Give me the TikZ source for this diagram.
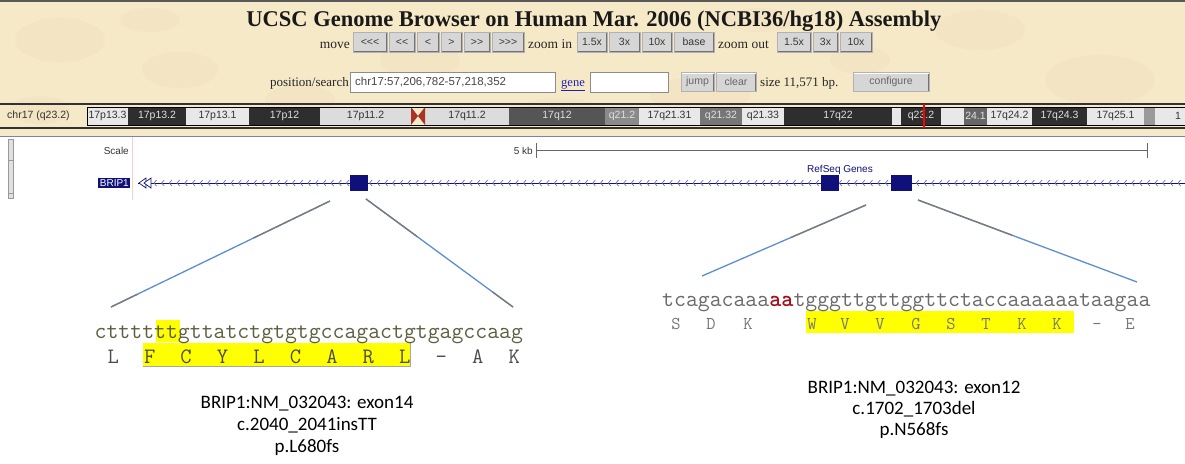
\documentclass[tikz,border=0pt]{standalone}
\usepackage{fontspec}
\setmainfont{Liberation Serif}
\newfontfamily\uisans{Liberation Sans}
\newfontfamily\capfont{Carlito}
\usetikzlibrary{calc}

\definecolor{parch}{HTML}{F6E9C8}
\definecolor{blotch}{HTML}{E3CFA3}
\definecolor{btnface}{HTML}{D6D6D6}
\definecolor{navy}{HTML}{10107A}
\definecolor{chevron}{HTML}{7070B8}
\definecolor{linkblue}{HTML}{2020B0}
\definecolor{zoomblue}{HTML}{5B8ED6}
\definecolor{zoomgray}{HTML}{7A7A7A}
\definecolor{hiyellow}{HTML}{FFFF00}
\definecolor{seqolive}{HTML}{5E5E40}
\definecolor{seqgray}{HTML}{6A6A6A}
\definecolor{aagray}{HTML}{777777}
\definecolor{delred}{HTML}{A3121A}
\definecolor{sepblue}{HTML}{7C7CD0}
\definecolor{bandlt}{HTML}{E8E8E8}
\definecolor{bandmd}{HTML}{DCDCDC}
\definecolor{banddk}{HTML}{2E2E2E}
\definecolor{bandq}{HTML}{555555}
\definecolor{bandga}{HTML}{8A8A8A}
\definecolor{bandgb}{HTML}{767676}
\definecolor{bandgc}{HTML}{666666}
\definecolor{bandgd}{HTML}{9A9A9A}
\definecolor{txdark}{HTML}{333333}
\definecolor{txlight}{HTML}{E0E0E0}
\definecolor{centro}{HTML}{A83428}

% one UI push button: name, left x, right x, centre y, height, label
\newcommand\uibutton[6]{%
  \node[btn, minimum width={(#3-#2)*1pt}, minimum height={#5*1pt}] (#1) at ({(#2+#3)/2},#4) {#6};}

\begin{document}
\begin{tikzpicture}[x=1pt,y=-1pt,
  btn/.style={draw=black!30, fill=btnface, inner sep=0pt,
    font=\uisans\fontsize{10.5}{12}\selectfont, text=black!78,
    path picture={
      \draw[black!55,line width=2pt] (path picture bounding box.south west) --
        (path picture bounding box.south east) -- (path picture bounding box.north east);
      \draw[white,line width=2pt] (path picture bounding box.south west) --
        (path picture bounding box.north west) -- (path picture bounding box.north east);}},
  inbox/.style={draw=black!45, fill=white, inner sep=0pt, minimum height=20pt},
  uitext/.style={inner sep=0pt, font=\fontsize{13.5}{15}\selectfont, text=black!85},
  band/.style={inner sep=0pt, font=\uisans\fontsize{10.5}{12}\selectfont},
  tracktext/.style={inner sep=0pt, font=\uisans\fontsize{10}{12}\selectfont},
  exon/.style={fill=navy, inner sep=0pt, minimum height=16pt},
  seq/.style={inner sep=0pt, anchor=base west, font=\ttfamily\fontsize{23.1}{26}\selectfont},
  aa/.style={inner sep=0pt, anchor=base, font=\ttfamily\fontsize{22}{24}\selectfont, text=black!70},
  aasmall/.style={inner sep=0pt, anchor=base, font=\ttfamily\fontsize{18}{20}\selectfont, text=aagray},
  caption/.style={inner sep=0pt, anchor=base, font=\capfont\fontsize{19}{22}\selectfont, text=black},
  zoomline/.style={zoomblue, line width=1.3pt},
  zoomend/.style={zoomgray, line width=1.3pt}]

\useasboundingbox (0,0) rectangle (1185,463);
\fill[white] (0,0) rectangle (1185,463);

% parchment header with a faint mottled texture
\fill[parch] (0,0) rectangle (1185,136);
\begin{scope}[opacity=0.12]
  \foreach \px/\py/\rx/\ry in {60/40/45/22, 180/70/38/18, 150/20/30/12, 420/60/40/20,
      700/95/50/18, 980/30/45/20, 1100/80/55/25, 860/60/30/14, 300/100/35/15,
      560/110/40/12, 1040/115/38/12, 40/110/30/14, 760/20/36/12}
    \fill[blotch] (\px,\py) ellipse [x radius=\rx, y radius=\ry];
\end{scope}
\draw[black!65, line width=2pt] (0,1) -- (1185,1);

% title
\node[inner sep=0pt, anchor=base, font=\bfseries\fontsize{22.5}{26}\selectfont, text=black!90]
  (title) at (594,26) {UCSC Genome Browser on Human Mar. 2006 (NCBI36/hg18) Assembly};

% navigation row
\node[uitext, anchor=base east] (lblmove) at (350,48.5) {move};
\uibutton{mvA}{353}{387}{42}{20}{<<<}
\uibutton{mvB}{389}{415}{42}{20}{<<}
\uibutton{mvC}{417}{439}{42}{20}{<}
\uibutton{mvD}{441}{462}{42}{20}{>}
\uibutton{mvE}{464}{490}{42}{20}{>>}
\uibutton{mvF}{492}{524}{42}{20}{>>>}
\node[uitext, anchor=base west] (lblzin) at (528,48.5) {zoom in};
\uibutton{ziA}{577}{607}{42}{20}{1.5x}
\uibutton{ziB}{609}{640}{42}{20}{3x}
\uibutton{ziC}{642}{672}{42}{20}{10x}
\uibutton{ziD}{674}{714}{42}{20}{base}
\node[uitext, anchor=base west] (lblzout) at (718,48.5) {zoom out};
\uibutton{zoA}{777}{811}{42}{20}{1.5x}
\uibutton{zoB}{813}{838}{42}{20}{3x}
\uibutton{zoC}{840}{872}{42}{20}{10x}

% position row
\node[uitext, anchor=base east, font=\fontsize{13}{15}\selectfont] (lblpos) at (349,86.5) {position/search};
\node[inbox, minimum width=205pt] (posbox) at (452.5,82) {};
\node[inner sep=0pt, anchor=west, font=\uisans\fontsize{11.5}{13}\selectfont, text=black!72]
  (posval) at (355,82) {chr17:57,206,782-57,218,352};
\node[uitext, anchor=base west, text=linkblue, font=\fontsize{12.5}{15}\selectfont] (lblgene) at (561,86.5) {\underline{gene}};
\node[inbox, minimum width=78pt] (genebox) at (629,82) {};
\uibutton{bjump}{681}{714}{82}{19}{\textcolor{black!60}{jump}}
\uibutton{bclear}{716}{756}{82}{19}{\textcolor{black!60}{clear}}
\node[uitext, anchor=base west, font=\fontsize{13}{15}\selectfont] (lblsize) at (760,86.5) {size 11,571 bp.};
\uibutton{bconf}{853}{929}{82}{19}{\textcolor{black!60}{configure}}

% chromosome ideogram
\draw[black!80, line width=1.4pt] (0,104) -- (1185,104);
\draw[black!80, line width=1.4pt] (0,128) -- (1185,128);
\node[band, anchor=west, text=txdark] (chrlabel) at (7,116) {chr17 (q23.2)};
\begin{scope}
\clip (0,100) rectangle (1185,130);
\foreach \a/\b/\f/\t/\l [count=\i] in {
    87/128/bandlt/txdark/17p13.3, 128/186/banddk/txlight/17p13.2,
    186/249/bandlt/txdark/17p13.1, 249/320/banddk/txlight/17p12,
    320/411/bandmd/txdark/17p11.2, 425/509/bandmd/txdark/17q11.2,
    509/605/bandq/txlight/17q12, 605/639/bandga/txlight/q21.2,
    639/700/bandlt/txdark/17q21.31, 700/742/bandgb/txlight/q21.32,
    742/784/bandlt/txdark/q21.33, 784/892/banddk/txlight/17q22,
    892/901/bandlt/txdark/{}, 901/941/banddk/txlight/q23.2,
    941/964/bandlt/txdark/{}, 964/987/bandgc/txlight/24.1,
    987/1032/bandlt/txdark/17q24.2, 1032/1087/banddk/txlight/17q24.3,
    1087/1144/bandlt/txdark/17q25.1, 1144/1155/bandgd/txlight/{},
    1155/1200/bandlt/txdark/{}}
  {\fill[\f] (\a,107) rectangle (\b,125);
   \node[band, text=\t] (band\i) at ({(\a+\b)/2},116) {\l};}
\node[band, anchor=west, text=txdark] (bandcut) at (1175,116) {1};
\fill[centro] (411,107) -- (418,116) -- (411,125) -- cycle;
\fill[centro] (425,107) -- (418,116) -- (425,125) -- cycle;
\draw[black, line width=0.8pt] (87,107) -- (1185,107) (87,125) -- (1185,125) (87,107) -- (87,125);
\end{scope}
\draw[red, line width=2pt] (924,104) -- (924,128);

% separator between header and tracks
\draw[sepblue, line width=1.2pt] (0,136.5) -- (1185,136.5);

% track side widgets
\fill[black!12] (8,139) rectangle (13,198);
\draw[black!40, line width=0.6pt] (8,139) rectangle (13,198) (8,160) -- (13,160) (8,193) -- (13,193);
\draw[red!20, line width=0.6pt] (132,137) -- (132,200);

% scale bar
\node[tracktext, anchor=east, text=black!80] (scalelbl) at (129,150.5) {Scale};
\node[tracktext, anchor=east, text=black!80] (kblbl) at (533,150.5) {5 kb};
\coordinate (sbL) at (536,150.5);
\coordinate (sbR) at (1147,150.5);
\draw[black!60, line width=0.8pt] (sbL) -- (sbR);
\draw[black!60, line width=0.8pt] ($(sbL)+(0,-7.5)$) -- ($(sbL)+(0,7.5)$);
\draw[black!60, line width=0.8pt] ($(sbR)+(0,-7.5)$) -- ($(sbR)+(0,7.5)$);

% RefSeq gene track
\node[tracktext, text=navy] (trackname) at (840,169.5) {RefSeq Genes};
\node[tracktext, fill=navy, text=white, inner sep=1.5pt, anchor=east] (genelbl) at (130.5,183) {BRIP1};
\coordinate (geneL) at (138,183);
\coordinate (geneR) at (1185,183);
\draw[navy, line width=1pt] (geneL) -- (geneR);
\foreach \k in {0,...,134}
  \draw[chevron, line width=0.7pt] ({154+7.7*\k+2.5},180) -- ({154+7.7*\k},183) -- ({154+7.7*\k+2.5},186);
\draw[navy, line width=0.7pt, fill=white] (146,178) -- (139,183) -- (146,188) -- cycle;
\draw[navy, line width=0.7pt, fill=white] (151,178) -- (144,183) -- (151,188) -- cycle;
\node[exon, minimum width=18pt] (exonL) at (359,183) {};
\node[exon, minimum width=18pt] (exonM) at (830,183) {};
\node[exon, minimum width=21pt] (exonR) at (901.5,183) {};

% zoom-out connectors
\coordinate (zlA) at (330,201);   \coordinate (zlB) at (111,307);
\coordinate (zrA) at (366,199);   \coordinate (zrB) at (513,307);
\coordinate (ylA) at (866,205);   \coordinate (ylB) at (702,276);
\coordinate (yrA) at (918,200);   \coordinate (yrB) at (1137,282);
\draw[zoomline] (zlA) -- (zlB);
\draw[zoomend] (zlA) -- ($(zlA)!0.35!(zlB)$);
\draw[zoomend] ($(zlA)!0.88!(zlB)$) -- (zlB);
\draw[zoomline] (zrA) -- (zrB);
\draw[zoomend] (zrA) -- ($(zrA)!0.35!(zrB)$);
\draw[zoomend] ($(zrA)!0.86!(zrB)$) -- (zrB);
\draw[zoomline] (ylA) -- (ylB);
\draw[zoomend] (ylA) -- ($(ylA)!0.46!(ylB)$);
\draw[zoomline] (yrA) -- (yrB);
\draw[zoomend] (yrA) -- ($(yrA)!0.43!(yrB)$);

% exon 14 insertion
\fill[hiyellow] (156,320) rectangle (180,342);
\fill[hiyellow] (143,343) rectangle (410,366);
\draw[black!35, line width=0.8pt] (143,366) -- (410,366) -- (410,343);
\node[seq, text=seqolive] (seqL) at (94.5,338.5) {cttttttgttatctgtgtgccagactgtgagccaag};
\foreach \r [count=\i from 0] in {L,F,C,Y,L,C,A,R,L,-,A,K}
  \node[aa] (aaL\i) at ({95+36.45*(\i+0.5)},363) {\r};

% exon 12 deletion
\fill[hiyellow] (806,311) rectangle (1074,333);
\node[seq, text=seqgray] (seqR) at (662,306)
  {tcagacaaa\textcolor{delred}{\bfseries aa}tgggttgttggttctaccaaaaaataagaa};
\foreach \r/\x [count=\i] in {S/676,D/711,K/748,W/812,V/845,V/880,G/916,
    S/951,T/986,K/1022,K/1057,-/1097,E/1130}
  \node[aasmall] (aaR\i) at (\x,329) {\r};

% variant captions
\node[caption] (capL1) at (307,408.5) {BRIP1:NM\_032043: exon14};
\node[caption] (capL2) at (307,430.5) {c.2040\_2041insTT};
\node[caption] (capL3) at (307,452) {p.L680fs};
\node[caption] (capR1) at (914,393) {BRIP1:NM\_032043: exon12};
\node[caption] (capR2) at (914,414.5) {c.1702\_1703del};
\node[caption] (capR3) at (914,435.5) {p.N568fs};
\end{tikzpicture}
\end{document}
